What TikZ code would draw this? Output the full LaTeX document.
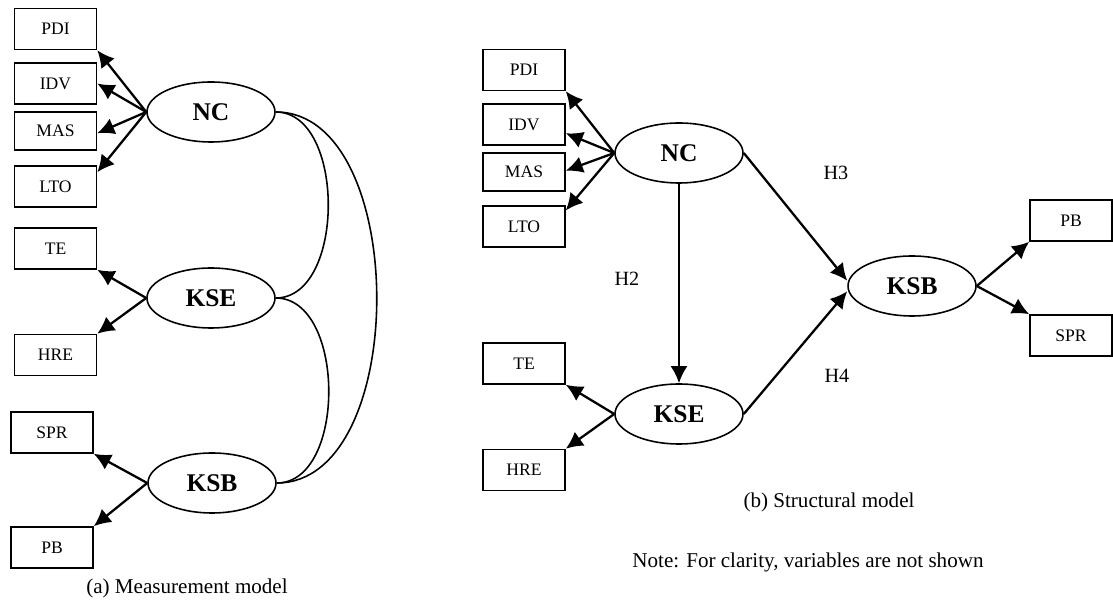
\documentclass[tikz,border=0pt]{standalone}
\usepackage{fontspec}
\setmainfont{Liberation Serif}
\usetikzlibrary{shapes.geometric,arrows.meta}

\begin{document}
\begin{tikzpicture}[x=0.02cm,y=-0.02cm,
    var/.style={draw,line width=0.9pt,minimum width=1.64cm,minimum height=0.82cm,inner sep=0pt,font=\fontsize{10}{12}\selectfont},
    lat/.style={draw,ellipse,line width=0.9pt,minimum width=2.56cm,minimum height=1.2cm,inner sep=0pt,font=\fontsize{14.5}{16}\selectfont\bfseries},
    load/.style={-{Latex[length=3.4mm,width=3.4mm]},line width=1.3pt},
    hyp/.style={font=\fontsize{11.5}{13}\selectfont},
    captext/.style={font=\fontsize{12}{14}\selectfont}]
    \useasboundingbox (0,0) rectangle (1113,604);
    % (a) measurement model
    \node[var] (pdiA) at (55.5,29) {PDI};
    \node[var] (idvA) at (55.5,83.5) {IDV};
    \node[var,minimum height=0.76cm] (masA) at (55.5,131) {MAS};
    \node[var] (ltoA) at (55.5,186.5) {LTO};
    \node[var] (teA) at (55.5,248.5) {TE};
    \node[var] (hreA) at (55.5,355) {HRE};
    \node[var] (sprA) at (52,432.5) {SPR};
    \node[var] (pbA) at (52,547.5) {PB};
    \node[lat] (ncA) at (211,112) {NC};
    \node[lat] (kseA) at (211,298) {KSE};
    \node[lat] (ksbA) at (212,483) {KSB};
    \draw[load] (ncA.west) -- (pdiA.south east);
    \draw[load] (ncA.west) -- (idvA.east);
    \draw[load] (ncA.west) -- ([yshift=10pt]masA.south east);
    \draw[load] (ncA.west) -- ([yshift=-4pt]ltoA.north east);
    \draw[load] (kseA.west) -- (teA.south east);
    \draw[load] (kseA.west) -- (hreA.north east);
    \draw[load] (ksbA.west) -- (sprA.south east);
    \draw[load] (ksbA.west) -- (pbA.north east);
    \draw[line width=0.9pt] (ncA.east) .. controls +(70,0) and +(70,0) .. (kseA.east);
    \draw[line width=0.9pt] (kseA.east) .. controls +(70,0) and +(70,0) .. (ksbA.east);
    \draw[line width=0.9pt] (ncA.east) .. controls +(134,0) and +(134,0) .. (ksbA.east);
    \node[captext] (capA) at (187,588) {(a) Measurement model};
    % (b) structural model
    \node[var] (pdiB) at (524,70) {PDI};
    \node[var] (idvB) at (524,124.5) {IDV};
    \node[var,minimum height=0.76cm] (masB) at (524,172) {MAS};
    \node[var] (ltoB) at (524,226.5) {LTO};
    \node[var] (teB) at (524,363.5) {TE};
    \node[var] (hreB) at (524,470) {HRE};
    \node[var] (pbB) at (1071,220.5) {PB};
    \node[var] (sprB) at (1071,335.5) {SPR};
    \node[lat] (ncB) at (679,153) {NC};
    \node[lat] (kseB) at (679,414) {KSE};
    \node[lat] (ksbB) at (912,286) {KSB};
    \draw[load] (ncB.west) -- (pdiB.south east);
    \draw[load] (ncB.west) -- ([yshift=-5pt]idvB.east);
    \draw[load] (ncB.west) -- ([yshift=12pt]masB.south east);
    \draw[load] (ncB.west) -- ([yshift=-3pt]ltoB.north east);
    \draw[load] (kseB.west) -- (teB.south east);
    \draw[load] (kseB.west) -- (hreB.north east);
    \draw[load] (ksbB.east) -- (pbB.south west);
    \draw[load] (ksbB.east) -- (sprB.north west);
    \draw[load] (ncB.south) -- (kseB.north);
    \draw[load] (ncB.east) -- ([yshift=3pt]ksbB.west);
    \draw[load] (kseB.east) -- ([yshift=-3pt]ksbB.west);
    \node[hyp] (h2) at (627,279) {H2};
    \node[hyp] (h3) at (836,173) {H3};
    \node[hyp] (h4) at (837,376) {H4};
    \node[captext] (capB) at (829,502) {(b) Structural model};
    \node[captext] (note) at (808,562) {Note: For clarity, variables are not shown};
\end{tikzpicture}
\end{document}
